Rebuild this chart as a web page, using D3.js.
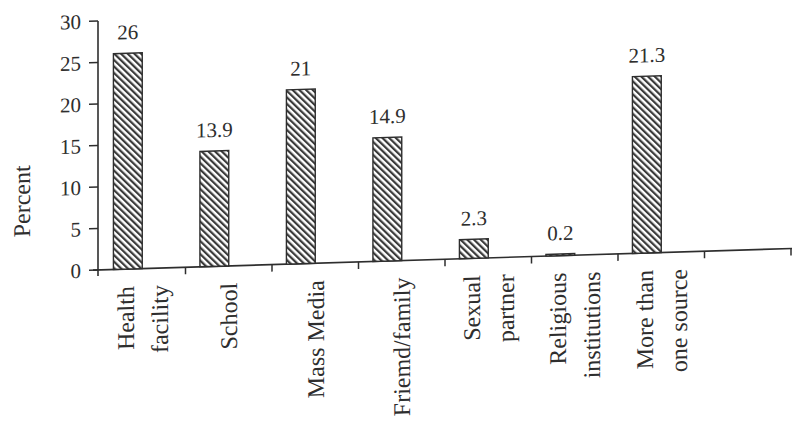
<!DOCTYPE html>
<html>
<head>
<meta charset="utf-8">
<script src="https://cdn.jsdelivr.net/npm/d3@7/dist/d3.min.js"></script>
<style>
  html, body { margin: 0; padding: 0; background: #ffffff; }
  svg { display: block; }
  text { font-family: "Liberation Serif", "DejaVu Serif", serif; fill: #2e2e2e; }
</style>
</head>
<body>
<svg id="chart" width="792" height="422"></svg>
<script>
// Sources of information (percent of respondents)
const categories = [
  "Health\nfacility",
  "School",
  "Mass Media",
  "Friemd/family",
  "Sexual\npartner",
  "Religious\ninstitutions",
  "More than\none source"
];
const values = [26, 13.9, 21, 14.9, 2.3, 0.2, 21.3];
const valueLabels = ["26", "13.9", "21", "14.9", "2.3", "0.2", "21.3"];
const yTicks = [0, 5, 10, 15, 20, 25, 30];
const yTitle = "Percent";

const ink = "#2e2e2e";
const svg = d3.select("#chart");

// hatch fill for the bars (diagonal lines running down to the right)
const defs = svg.append("defs");
const pat = defs.append("pattern")
  .attr("id", "hatch")
  .attr("patternUnits", "userSpaceOnUse")
  .attr("width", 4.6)
  .attr("height", 4.6)
  .attr("patternTransform", "rotate(-45)");
pat.append("rect").attr("width", 4.6).attr("height", 4.6).attr("fill", "#ffffff");
pat.append("rect").attr("x", 0).attr("y", 0).attr("width", 2.2).attr("height", 4.6).attr("fill", "#3a3a3a");

const axisX = 98;
const skew = -0.031;
const g = svg.append("g")
  .attr("transform", `matrix(1, ${skew}, 0, 1, 0, ${-skew * axisX})`);

const x = d3.scaleBand()
  .domain([...categories, ""])
  .range([99, 791])
  .paddingInner(0)
  .paddingOuter(0);
const bw = x.bandwidth();

const y = d3.scaleLinear().domain([0, 30]).range([270, 21]);

// y axis
g.append("line")
  .attr("x1", axisX).attr("x2", axisX)
  .attr("y1", y(30)).attr("y2", y(0) + 6)
  .attr("stroke", ink).attr("stroke-width", 1.6);

g.selectAll(".ytick").data(yTicks).join("line")
  .attr("x1", axisX - 9).attr("x2", axisX)
  .attr("y1", d => y(d)).attr("y2", d => y(d))
  .attr("stroke", ink).attr("stroke-width", 1.5);

g.selectAll(".ylab").data(yTicks).join("text")
  .attr("x", axisX - 17)
  .attr("y", d => y(d))
  .attr("dy", "0.35em")
  .attr("text-anchor", "end")
  .attr("font-size", 21)
  .text(d => d);

g.append("text")
  .attr("transform", `translate(${30},${199}) rotate(-90)`)
  .attr("text-anchor", "middle")
  .attr("font-size", 24)
  .text(yTitle);

// x axis with ticks on category boundaries
g.append("line")
  .attr("x1", axisX - 5).attr("x2", 792)
  .attr("y1", y(0)).attr("y2", y(0))
  .attr("stroke", ink).attr("stroke-width", 1.6);

g.selectAll(".xtick").data(x.domain()).join("line")
  .attr("x1", d => x(d) + bw).attr("x2", d => x(d) + bw)
  .attr("y1", y(0)).attr("y2", y(0) + 7)
  .attr("stroke", ink).attr("stroke-width", 1.5);

// bars
const data = categories.map((c, i) => ({ c, v: values[i], label: valueLabels[i] }));

g.selectAll(".bar").data(data).join("rect")
  .attr("x", d => x(d.c) + bw / 6)
  .attr("width", bw / 3)
  .attr("y", d => y(d.v))
  .attr("height", d => y(0) - y(d.v))
  .attr("fill", "url(#hatch)")
  .attr("stroke", ink)
  .attr("stroke-width", 1.4);

g.selectAll(".vlab").data(data).join("text")
  .attr("x", d => x(d.c) + bw / 3)
  .attr("y", d => y(d.v) - 14)
  .attr("text-anchor", "middle")
  .attr("font-size", 21)
  .text(d => d.label);

// rotated category labels
data.forEach(d => {
  const lines = d.c.split("\n");
  const cx = x(d.c) + bw / 2;
  const gap = 34;
  lines.forEach((ln, j) => {
    const lx = cx + (j - (lines.length - 1) / 2) * gap;
    g.append("text")
      .attr("transform", `translate(${lx},${y(0) + 17}) rotate(-90)`)
      .attr("dy", "0.35em")
      .attr("text-anchor", "end")
      .attr("font-size", 24)
      .text(ln);
  });
});
</script>
</body>
</html>
